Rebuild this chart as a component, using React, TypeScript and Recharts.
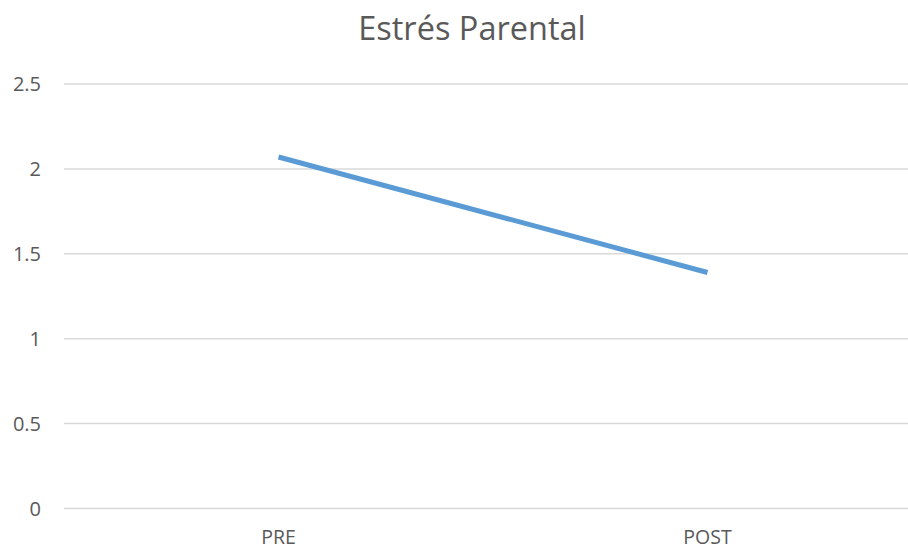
import { LineChart, Line, CartesianGrid, XAxis, YAxis } from 'recharts';

const categories = ['PRE', 'POST'];
const estres = [2.07, 1.39];
const yTicks = [0, 0.5, 1, 1.5, 2, 2.5];

const data = categories.map((name, i) => ({ name, value: estres[i] }));

const textColor = '#595959';
const font = '"Open Sans", sans-serif';

if (typeof document !== 'undefined') {
  document.body.style.margin = '0';
  document.body.style.overflow = 'hidden';
}

export default function App() {
  return (
    <div
      style={{
        position: 'relative',
        width: 908,
        height: 550,
        overflow: 'hidden',
        background: '#fff',
        fontFamily: font,
      }}
    >
      <div
        style={{
          position: 'absolute',
          top: 6,
          left: 272,
          width: 400,
          textAlign: 'center',
          fontSize: 32.5,
          color: textColor,
          lineHeight: '44px',
        }}
      >
        Estrés Parental
      </div>
      <LineChart
        width={922}
        height={550}
        data={data}
        margin={{ top: 84, right: 0, bottom: 0, left: 0 }}
      >
        <CartesianGrid vertical={false} stroke="#D9D9D9" strokeWidth={1.5} />
        <XAxis
          dataKey="name"
          axisLine={false}
          tickLine={false}
          tickSize={0}
          tickMargin={22}
          height={41.5}
          padding={{ left: 214.5, right: 214.5 }}
          tick={{ fill: textColor, fontSize: 19.5, fontFamily: font }}
        />
        <YAxis
          domain={[0, 2.5]}
          ticks={yTicks}
          axisLine={false}
          tickLine={false}
          tickSize={0}
          tickMargin={23}
          width={64}
          tick={{ fill: textColor, fontSize: 20, fontFamily: font }}
        />
        <Line
          type="linear"
          dataKey="value"
          stroke="#5B9BD5"
          strokeWidth={5}
          dot={false}
          activeDot={false}
          isAnimationActive={false}
        />
      </LineChart>
    </div>
  );
}
